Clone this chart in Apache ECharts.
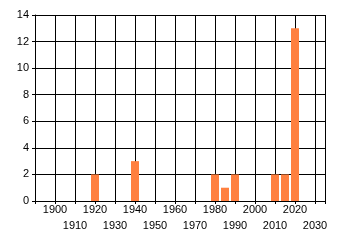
<!DOCTYPE html>
<html><head><meta charset="utf-8">
<script src="https://cdn.jsdelivr.net/npm/echarts@6/dist/echarts.min.js"></script>
<style>html,body{margin:0;padding:0;background:#fff}#c{width:340px;height:245px}</style>
</head><body><div id="c"></div>
<script>
const years = [1920, 1940, 1980, 1985, 1990, 2010, 2015, 2020];
const counts = [2, 3, 2, 1, 2, 2, 2, 13];
const yTicks = [0, 2, 4, 6, 8, 10, 12, 14];
const xTickLabels = [1900, 1910, 1920, 1930, 1940, 1950, 1960, 1970, 1980, 1990, 2000, 2010, 2020, 2030];

const chart = echarts.init(document.getElementById('c'), null, {renderer: 'canvas'});
const lineStyle = {color: '#000', width: 1};
chart.setOption({
  animation: false,
  grid: {left: 35, right: 15, top: 15, bottom: 44},
  xAxis: {
    type: 'value', min: 1890, max: 2035, interval: 10,
    axisLine: {show: true, lineStyle: lineStyle, onZero: false},
    axisTick: {show: true, length: 3, lineStyle: lineStyle},
    splitLine: {show: true, lineStyle: lineStyle},
    axisLabel: {
      margin: 1, fontFamily: 'Liberation Sans', fontSize: 11, color: '#000', lineHeight: 16,
      showMinLabel: true, showMaxLabel: true,
      formatter: function (v) {
        if (xTickLabels.indexOf(v) < 0) return '';
        return (v / 10) % 2 === 0 ? String(v) : '\n' + v;
      }
    }
  },
  yAxis: {
    type: 'value', min: yTicks[0], max: yTicks[yTicks.length - 1], interval: 2,
    axisLine: {show: true, lineStyle: lineStyle},
    axisTick: {show: true, length: 3, lineStyle: lineStyle},
    splitLine: {show: true, lineStyle: lineStyle},
    axisLabel: {margin: 6, fontFamily: 'Liberation Sans', fontSize: 11, color: '#000'}
  },
  series: [{
    type: 'bar', barWidth: 8,
    itemStyle: {color: '#ff8040'},
    data: years.map((y, i) => [y, counts[i]])
  }]
});
</script></body></html>
